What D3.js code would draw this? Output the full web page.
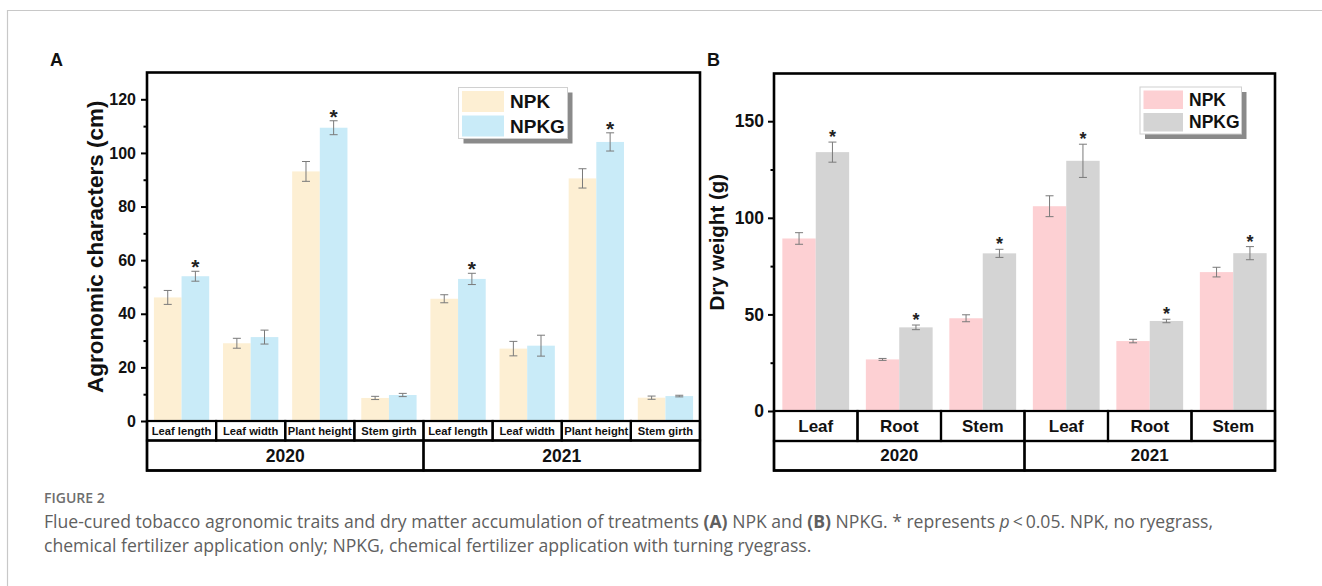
<!DOCTYPE html>
<html>
<head>
<meta charset="utf-8">
<script src="https://cdn.jsdelivr.net/npm/d3@7"></script>
<style>
  html, body { margin: 0; padding: 0; background: #fff; }
  svg { display: block; }
</style>
</head>
<body>
<svg id="fig" width="1322" height="586"></svg>
<script>
// ---- Panel A: agronomic characters (cm) ----
const traits = ["Leaf length", "Leaf width", "Plant height", "Stem girth"];
const yearsA = ["2020", "2021"];
const agroNPK = [46.1, 29.0, 93.1, 8.6, 45.6, 27.0, 90.5, 8.7];
const agroNPKErr = [2.6, 1.85, 3.7, 0.6, 1.5, 2.7, 3.6, 0.6];
const agroNPKG = [54.0, 31.3, 109.4, 9.7, 53.0, 28.1, 104.1, 9.3];
const agroNPKGErr = [1.85, 2.6, 2.6, 0.6, 2.1, 3.9, 3.4, 0.3];
const agroSig = [true, false, true, false, true, false, true, false];
const agroTicks = [0, 20, 40, 60, 80, 100, 120];
const agroMinor = [10, 30, 50, 70, 90, 110];

// ---- Panel B: dry weight (g) ----
const organs = ["Leaf", "Root", "Stem"];
const yearsB = ["2020", "2021"];
const dryNPK = [89.3, 26.7, 48.0, 106.0, 36.2, 71.9];
const dryNPKErr = [3.0, 0.5, 1.8, 5.4, 0.9, 2.5];
const dryNPKG = [134.0, 43.3, 81.6, 129.5, 46.6, 81.7];
const dryNPKGErr = [5.2, 1.2, 2.1, 8.6, 0.9, 3.4];
const drySig = [true, true, true, true, true, true];
const dryTicks = [0, 50, 100, 150];
const dryMinor = [25, 75, 125];

const seriesNames = ["NPK", "NPKG"];

const FONT = "'Liberation Sans', Arial, Helvetica, sans-serif";
const svg = d3.select("#fig");

// page frame
svg.append("path")
  .attr("d", "M7.5,586 L7.5,10.5 L1322,10.5")
  .attr("fill", "none").attr("stroke", "#c8c8c8").attr("stroke-width", 1.2);

function drawPanel(cfg) {
  const g = svg.append("g");
  const { left, right, top, zeroY, catBottom, yearBottom } = cfg;

  const y = d3.scaleLinear().domain(cfg.domain).range([zeroY, top]);
  const keys = [];
  cfg.years.forEach(yr => cfg.cats.forEach(c => keys.push(yr + "|" + c)));
  const x = d3.scaleBand().domain(keys).range([left, right])
    .paddingInner(0.2).paddingOuter(0.1);
  const xs = d3.scaleBand().domain(cfg.series).range([0, x.bandwidth()]);
  const step = x.step();
  const cellLeft = k => x(k) - (step - x.bandwidth()) / 2;

  // bars
  const rows = keys.map((k, i) => ({
    key: k,
    vals: [
      { s: cfg.series[0], v: cfg.a[i], e: cfg.aErr[i], sig: false },
      { s: cfg.series[1], v: cfg.b[i], e: cfg.bErr[i], sig: cfg.sig[i] }
    ]
  }));
  const grp = g.selectAll("g.cat").data(rows).join("g")
    .attr("transform", d => `translate(${x(d.key)},0)`);
  grp.selectAll("rect").data(d => d.vals).join("rect")
    .attr("x", d => xs(d.s))
    .attr("width", xs.bandwidth())
    .attr("y", d => y(d.v))
    .attr("height", d => y(0) - y(d.v))
    .attr("fill", (d, i) => cfg.colors[i]);

  // error bars
  const eb = grp.selectAll("g.err").data(d => d.vals).join("g")
    .attr("transform", d => `translate(${xs(d.s) + xs.bandwidth() / 2},0)`)
    .attr("stroke", "#7a7a7a").attr("stroke-width", 1);
  eb.append("line").attr("y1", d => y(d.v + d.e)).attr("y2", d => y(d.v - d.e));
  eb.append("line").attr("x1", -4).attr("x2", 4).attr("y1", d => y(d.v + d.e)).attr("y2", d => y(d.v + d.e));
  eb.append("line").attr("x1", -4).attr("x2", 4).attr("y1", d => y(d.v - d.e)).attr("y2", d => y(d.v - d.e));

  // significance stars
  grp.selectAll("text.star").data(d => d.vals.filter(v => v.sig)).join("text")
    .attr("x", d => xs(d.s) + xs.bandwidth() / 2)
    .attr("y", d => y(d.v + d.e) + cfg.starShift)
    .attr("text-anchor", "middle")
    .attr("font-family", FONT).attr("font-weight", "bold")
    .attr("font-size", cfg.starSize).attr("fill", "#222")
    .text("*");

  // y axis
  const axis = d3.axisLeft(y).tickValues(cfg.ticks).tickSize(6).tickPadding(cfg.tickPad);
  const ax = g.append("g").attr("transform", `translate(${left},0)`).call(axis);
  ax.select(".domain").remove();
  ax.selectAll(".tick line").attr("stroke", "#000").attr("stroke-width", 2);
  ax.selectAll(".tick text").attr("font-family", FONT).attr("font-weight", "bold")
    .attr("font-size", cfg.tickFont).attr("fill", "#111");
  const minor = d3.axisLeft(y).tickValues(cfg.minor).tickSize(3.5).tickFormat("");
  const mx = g.append("g").attr("transform", `translate(${left},0)`).call(minor);
  mx.select(".domain").remove();
  mx.selectAll(".tick line").attr("stroke", "#000").attr("stroke-width", 2);

  // y title
  g.append("text")
    .attr("transform", `translate(${cfg.titleX},${(top + zeroY) / 2}) rotate(-90)`)
    .attr("text-anchor", "middle").attr("dominant-baseline", "middle")
    .attr("font-family", FONT).attr("font-weight", "bold")
    .attr("font-size", cfg.titleFont).attr("fill", "#111")
    .text(cfg.title);

  // category cells
  const lw = 2.2;
  keys.forEach(k => {
    g.append("rect").attr("x", cellLeft(k)).attr("y", zeroY)
      .attr("width", step).attr("height", catBottom - zeroY)
      .attr("fill", "none").attr("stroke", "#000").attr("stroke-width", lw);
    g.append("text")
      .attr("x", cellLeft(k) + step / 2).attr("y", (zeroY + catBottom) / 2)
      .attr("text-anchor", "middle").attr("dominant-baseline", "central")
      .attr("font-family", FONT).attr("font-weight", "bold")
      .attr("font-size", cfg.catFont).attr("fill", "#111")
      .text(k.split("|")[1]);
  });
  // year cells
  cfg.years.forEach(yr => {
    const first = cellLeft(yr + "|" + cfg.cats[0]);
    const w = step * cfg.cats.length;
    g.append("rect").attr("x", first).attr("y", catBottom)
      .attr("width", w).attr("height", yearBottom - catBottom)
      .attr("fill", "none").attr("stroke", "#000").attr("stroke-width", lw);
    g.append("text")
      .attr("x", first + w / 2).attr("y", (catBottom + yearBottom) / 2)
      .attr("text-anchor", "middle").attr("dominant-baseline", "central")
      .attr("font-family", FONT).attr("font-weight", "bold")
      .attr("font-size", cfg.yearFont).attr("fill", "#111")
      .text(yr);
  });

  // outer frame
  g.append("rect").attr("x", left).attr("y", top)
    .attr("width", right - left).attr("height", yearBottom - top)
    .attr("fill", "none").attr("stroke", "#000").attr("stroke-width", 2.6);

  // legend
  const L = cfg.legend;
  const lg = g.append("g").attr("transform", `translate(${L.x},${L.y})`);
  lg.append("rect").attr("x", 5).attr("y", 5).attr("width", L.w).attr("height", L.h).attr("fill", "#8a8a8a");
  lg.append("rect").attr("x", 0).attr("y", 0).attr("width", L.w).attr("height", L.h)
    .attr("fill", "#fff").attr("stroke", "#d0d0d0").attr("stroke-width", 1);
  cfg.series.forEach((s, i) => {
    const sy = L.pad + i * L.rowH;
    lg.append("rect").attr("x", L.pad).attr("y", sy)
      .attr("width", L.sw).attr("height", L.sh).attr("fill", cfg.colors[i]);
    lg.append("text").attr("x", L.pad + L.sw + L.gap).attr("y", sy + L.sh / 2)
      .attr("dominant-baseline", "central")
      .attr("font-family", FONT).attr("font-weight", "bold")
      .attr("font-size", L.font).attr("fill", "#111").text(s);
  });

  // panel letter
  g.append("text").attr("x", cfg.letterX).attr("y", 66)
    .attr("font-family", FONT).attr("font-weight", "bold")
    .attr("font-size", 18).attr("fill", "#111").text(cfg.letter);
}

drawPanel({
  letter: "A", letterX: 50,
  left: 147, right: 700, top: 72.5, zeroY: 421, catBottom: 440.5, yearBottom: 470.5,
  domain: [0, 130], ticks: agroTicks, minor: agroMinor,
  years: yearsA, cats: traits, series: seriesNames,
  a: agroNPK, aErr: agroNPKErr, b: agroNPKG, bErr: agroNPKGErr, sig: agroSig,
  colors: ["#fdefd3", "#c9ebf8"],
  title: "Agronomic characters (cm)", titleX: 97, titleFont: 22.5,
  tickFont: 16, tickPad: 5, catFont: 11.2, yearFont: 17.5, starSize: 21, starShift: 3,
  legend: { x: 458.5, y: 87.5, w: 109, h: 51, pad: 3.5, rowH: 24.5, sw: 42, sh: 21, gap: 6, font: 19 }
});

drawPanel({
  letter: "B", letterX: 707,
  left: 774, right: 1275, top: 73.5, zeroY: 411, catBottom: 441, yearBottom: 470.5,
  domain: [0, 174.7], ticks: dryTicks, minor: dryMinor,
  years: yearsB, cats: organs, series: seriesNames,
  a: dryNPK, aErr: dryNPKErr, b: dryNPKG, bErr: dryNPKGErr, sig: drySig,
  colors: ["#fdd0d3", "#d4d4d4"],
  title: "Dry weight (g)", titleX: 718.5, titleFont: 20.5,
  tickFont: 17.5, tickPad: 4, catFont: 17, yearFont: 17, starSize: 18, starShift: 1,
  legend: { x: 1140, y: 87, w: 101.5, h: 47, pad: 3.5, rowH: 22.5, sw: 39.5, sh: 18.5, gap: 6, font: 17.5 }
});

// caption
const CAP = "'Open Sans', 'Noto Sans', sans-serif";
svg.append("text").attr("x", 44).attr("y", 503)
  .attr("font-family", CAP).attr("font-size", 14).attr("font-weight", 600)
  .attr("fill", "#6e6e6e").text("FIGURE 2");
const line1 = svg.append("text").attr("x", 44).attr("y", 528)
  .attr("font-family", CAP).attr("font-size", 17.6).attr("fill", "#606060");
line1.append("tspan").text("Flue-cured tobacco agronomic traits and dry matter accumulation of treatments ");
line1.append("tspan").attr("font-weight", 700).text("(A)");
line1.append("tspan").text(" NPK and ");
line1.append("tspan").attr("font-weight", 700).text("(B)");
line1.append("tspan").text(" NPKG. * represents ");
line1.append("tspan").attr("font-style", "italic").text("p");
line1.append("tspan").text("\u2009<\u20090.05. NPK, no ryegrass,");
svg.append("text").attr("x", 44).attr("y", 552)
  .attr("font-family", CAP).attr("font-size", 17.6).attr("fill", "#606060")
  .text("chemical fertilizer application only; NPKG, chemical fertilizer application with turning ryegrass.");
</script>
</body>
</html>
